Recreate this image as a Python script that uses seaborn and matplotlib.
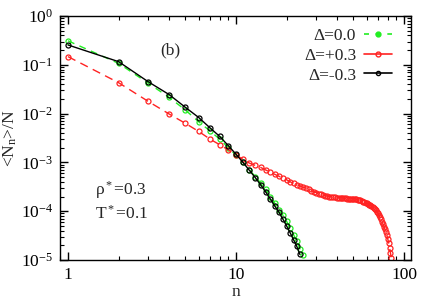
import numpy as np
import pandas as pd
import matplotlib
matplotlib.use("Agg")
import matplotlib.pyplot as plt
import seaborn as sns
from matplotlib.lines import Line2D

n_black = list(range(1, 25))
v_black = [0.255, 0.116, 0.045, 0.0245, 0.0134, 0.0083, 0.0051, 0.0034, 0.0022, 0.00147,
           0.00100, 0.00069, 0.00049, 0.00035, 0.00025, 0.000178, 0.000128, 0.000096,
           0.000069, 0.000050, 0.000036, 0.000026, 0.000019, 0.000013]

n_green = list(range(1, 26))
v_green = [0.31, 0.107, 0.042, 0.0215, 0.0118, 0.0068, 0.0044, 0.0030, 0.0020, 0.0014,
           0.00100, 0.00071, 0.00051, 0.00038, 0.00028, 0.000200, 0.000145, 0.000108,
           0.000083, 0.000062, 0.000045, 0.000033, 0.000024, 0.000017, 0.0000125]

n_red = list(range(1, 85))
v_red = [0.147, 0.043, 0.0178, 0.0098, 0.0063, 0.0043, 0.0030, 0.0023, 0.0018, 0.00142,
         0.00115, 0.00097, 0.00087, 0.00079, 0.00070, 0.00063, 0.00057, 0.00052, 0.00048, 0.00044,
         0.00040, 0.00037, 0.00035, 0.00033, 0.00031, 0.00030, 0.00028, 0.00026, 0.00025, 0.00024,
         0.000228, 0.000220, 0.000213, 0.000208, 0.000204, 0.000200, 0.000197, 0.000194, 0.000192, 0.000190,
         0.000188, 0.000187, 0.000186, 0.000184, 0.000183, 0.000182, 0.000182, 0.000181, 0.000180, 0.000179,
         0.000178, 0.000176, 0.000173, 0.000170, 0.000166, 0.000161, 0.000157, 0.000152, 0.000148, 0.000145,
         0.000141, 0.000137, 0.000133, 0.000128, 0.000122, 0.000116, 0.000110, 0.000104, 0.000097, 0.000090,
         0.000082, 0.000075, 0.000068, 0.000061, 0.000054, 0.000048, 0.000043, 0.000037, 0.000032, 0.000027,
         0.000022, 0.000018, 0.000014, 0.000011]

labels = ["Δ=0.0", "Δ=+0.3", "Δ=-0.3"]
colors = ["#22ee22", "#ff2222", "#000000"]

sns.set_theme(style="ticks")
plt.rcParams['font.family'] = ['Liberation Serif', 'DejaVu Serif']
plt.rcParams['mathtext.fontset'] = 'custom'
plt.rcParams['mathtext.rm'] = 'Liberation Serif'
plt.rcParams['mathtext.it'] = 'Liberation Serif:italic'
plt.rcParams['mathtext.default'] = 'rm'

fig = plt.figure(figsize=(4.36, 3.05), dpi=100)
ax = fig.add_axes([60/436, 1 - 260/305, (411-60)/436, (260-16)/305])

df_g = pd.DataFrame({"n": n_green, "v": v_green})
df_r = pd.DataFrame({"n": n_red, "v": v_red})
df_b = pd.DataFrame({"n": n_black, "v": v_black})

mk = dict(marker="o", markersize=3.6, markerfacecolor="none", markeredgewidth=0.9)
sns.lineplot(data=df_g, x="n", y="v", ax=ax, color=colors[0], linewidth=1.0,
             markeredgecolor=colors[0], **mk)
ax.lines[-1].set_dashes([5, 4])
sns.lineplot(data=df_r, x="n", y="v", ax=ax, color=colors[1], linewidth=1.0,
             markeredgecolor=colors[1], **mk)
ax.lines[-1].set_dashes([6, 4])
sns.lineplot(data=df_b, x="n", y="v", ax=ax, color=colors[2], linewidth=1.0,
             markeredgecolor=colors[2], **mk)

ax.set_xscale("log")
ax.set_yscale("log")
ax.set_xlim(0.896, 110)
ax.set_ylim(1e-5, 1)
ax.set_xticks([1, 10, 100])
ax.set_xticklabels(["1", "10", "100"])
ax.set_yticks([1e-5, 1e-4, 1e-3, 1e-2, 1e-1, 1])
ax.set_yticklabels([r"$10^{-5}$", r"$10^{-4}$", r"$10^{-3}$", r"$10^{-2}$", r"$10^{-1}$", r"$10^{0}$"])
ax.tick_params(which="both", direction="in", top=True, right=True, labelsize=12.5, colors="black")
ax.tick_params(which="major", length=6, width=1, pad=5)
ax.tick_params(which="minor", length=3, width=0.8)
for s in ax.spines.values():
    s.set_linewidth(1.0)
    s.set_color("black")

ax.set_xlabel("n", fontsize=12.5, labelpad=1)
ax.set_ylabel(r"<N$_{\rm n}$>/N", fontsize=12.5, labelpad=1)

ax.text(0.315, 0.86, "(b)", transform=ax.transAxes, fontsize=12.5, ha="center", va="center")
ax.text(0.10, 0.285, r"ρ$^*$=0.3", transform=ax.transAxes, fontsize=12.5, ha="left", va="center")
ax.text(0.10, 0.19, r"T$^*$=0.1", transform=ax.transAxes, fontsize=12.5, ha="left", va="center")

handles = [
    Line2D([], [], color=colors[0], linestyle=(0, (3, 4)), linewidth=1.2, marker="o",
           markersize=3.5, markerfacecolor=colors[0], markeredgecolor=colors[0]),
    Line2D([], [], color=colors[1], linewidth=1.2, marker="o",
           markersize=3.5, markerfacecolor="none", markeredgecolor=colors[1]),
    Line2D([], [], color=colors[2], linewidth=1.2, marker="o",
           markersize=3, markerfacecolor="none", markeredgecolor=colors[2]),
]
leg = ax.legend(handles, labels, loc="upper right", frameon=False, markerfirst=False,
                fontsize=12.5, handlelength=1.6, labelspacing=0.2, borderaxespad=0.3,
                handletextpad=0.45, bbox_to_anchor=(0.98, 1.0))
for t in leg.get_texts():
    t.set_ha("right")

fig.savefig("out.png", dpi=100)
